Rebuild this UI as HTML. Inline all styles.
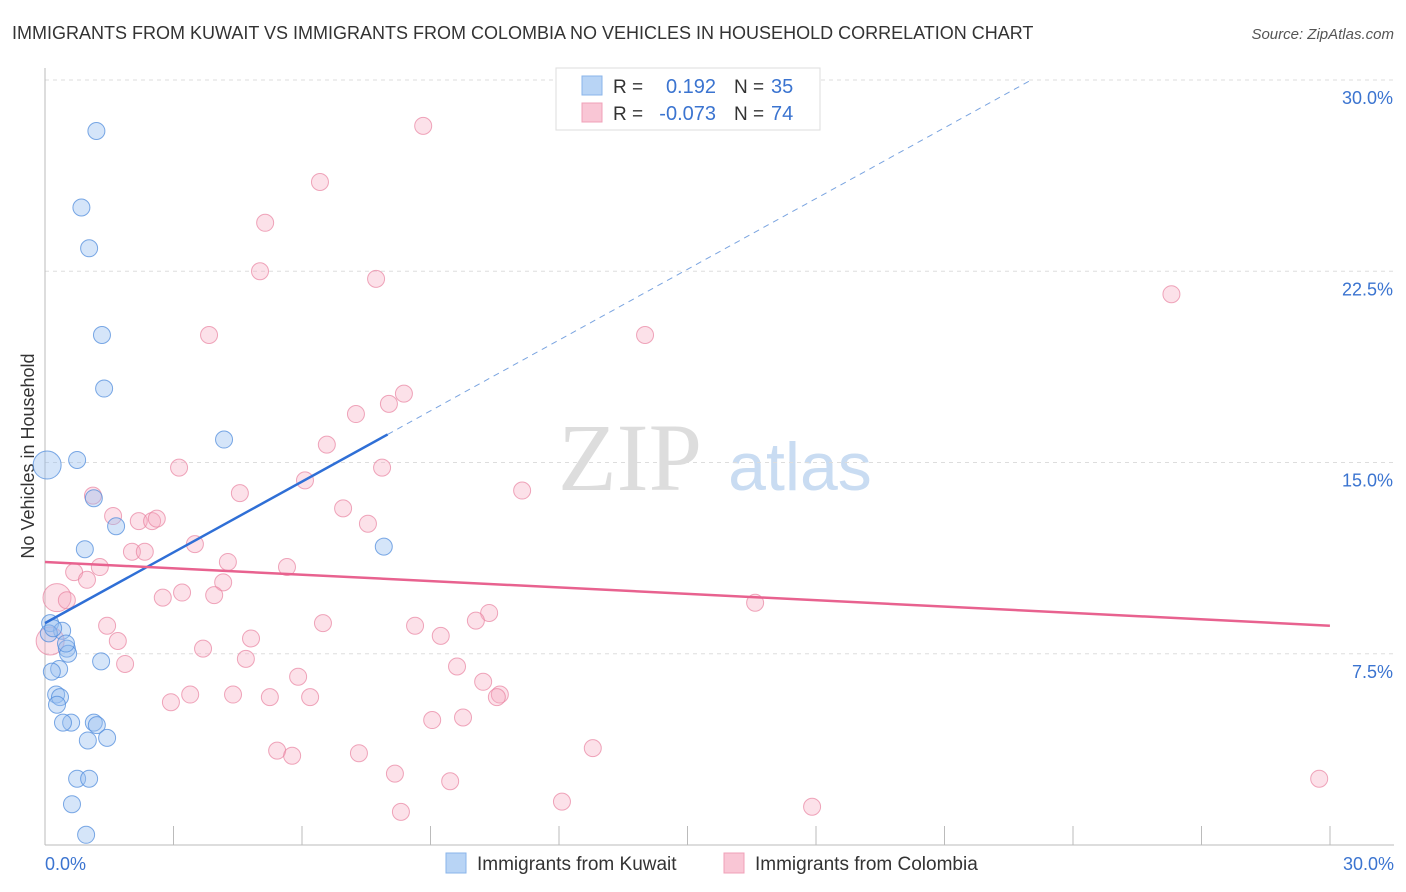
<!DOCTYPE html>
<html><head><meta charset="utf-8"><style>
body{margin:0;background:#fff;font-family:"Liberation Sans",sans-serif}
#wrap{position:relative;width:1406px;height:892px;overflow:hidden}
</style></head><body><div id="wrap">
<svg id="svg" width="1406" height="892" xmlns="http://www.w3.org/2000/svg">
<text x="12" y="39" font-size="18" fill="#333">IMMIGRANTS FROM KUWAIT VS IMMIGRANTS FROM COLOMBIA NO VEHICLES IN HOUSEHOLD CORRELATION CHART</text>
<text x="1394" y="39" font-size="15" fill="#555" font-style="italic" text-anchor="end">Source: ZipAtlas.com</text>
<text x="34" y="456" font-size="18" fill="#333" text-anchor="middle" transform="rotate(-90 34 456)">No Vehicles in Household</text>
<text x="630" y="490" font-size="96" fill="#ddd" font-family="Liberation Serif,serif" text-anchor="middle">ZIP</text>
<text x="800" y="490" font-size="68" fill="#c9dcf2" text-anchor="middle">atlas</text>
<g id="grid"></g><g id="pts"></g><g id="lines"></g>
<g>
<rect x="556" y="68" width="264" height="62" fill="#fff" stroke="#ddd"/>
<rect x="582" y="76" width="20" height="19" fill="#b8d4f5" stroke="#8ab4ea"/>
<rect x="582" y="103" width="20" height="19" fill="#f9c6d5" stroke="#f0a0b8"/>
<text x="613" y="93" font-size="19" fill="#333">R =</text><text x="716" y="93" font-size="20" fill="#3b74d0" text-anchor="end">0.192</text>
<text x="734" y="93" font-size="19" fill="#333">N =</text><text x="771" y="93" font-size="20" fill="#3b74d0">35</text>
<text x="613" y="120" font-size="19" fill="#333">R =</text><text x="716" y="120" font-size="20" fill="#3b74d0" text-anchor="end">-0.073</text>
<text x="734" y="120" font-size="19" fill="#333">N =</text><text x="771" y="120" font-size="20" fill="#3b74d0">74</text>
</g>
<g>
<rect x="446" y="853" width="20" height="20" fill="#b8d4f5" stroke="#8ab4ea"/>
<text x="477" y="870" font-size="19" fill="#333">Immigrants from Kuwait</text>
<rect x="724" y="853" width="20" height="20" fill="#f9c6d5" stroke="#f0a0b8"/>
<text x="755" y="870" font-size="19" fill="#333">Immigrants from Colombia</text>
</g>
</svg></div>
<script>
const yTicks=[7.5,15,22.5,30];
const yTickLabels=["7.5%","15.0%","22.5%","30.0%"];
const xTickLabels=["0.0%","30.0%"];
const kuwaitX=[1.2,0.85,1.03,1.33,1.38,4.18,0.05,0.75,1.14,1.66,0.93,7.91,0.12,0.4,0.09,0.51,0.54,1.31,0.33,0.16,0.26,0.35,0.28,0.61,0.42,1.14,1.21,1.0,1.45,0.75,1.03,0.63,0.96,0.19,0.49];
const kuwaitY=[28.0,25.0,23.4,20.0,17.9,15.9,14.9,15.1,13.6,12.5,11.6,11.7,8.7,8.4,8.3,7.7,7.5,7.2,6.9,6.8,5.9,5.8,5.5,4.8,4.8,4.8,4.7,4.1,4.2,2.6,2.6,1.6,0.4,8.5,7.9];
const colX=[8.83,6.42,5.14,5.02,7.73,26.3,14.01,3.83,8.38,8.03,7.26,6.58,3.13,7.87,6.07,11.14,4.55,1.12,1.59,6.96,2.19,2.5,2.61,7.54,3.5,2.03,2.33,4.27,5.65,1.28,0.68,0.98,4.16,3.2,2.75,3.95,0.28,0.51,10.37,10.06,16.58,1.45,6.49,8.64,1.7,9.24,4.81,3.69,4.69,1.87,9.62,5.91,10.23,10.62,3.39,10.55,2.94,4.39,5.25,6.19,9.04,9.76,5.42,12.79,7.33,5.77,8.17,9.46,12.07,8.31,17.91,29.75,0.12];
const colY=[28.2,26.0,24.4,22.5,22.2,21.6,20.0,20.0,17.7,17.3,16.9,15.7,14.8,14.8,14.3,13.9,13.8,13.7,12.9,13.2,12.7,12.7,12.8,12.6,11.8,11.5,11.5,11.1,10.9,10.9,10.7,10.4,10.3,9.9,9.7,9.8,9.7,9.6,9.1,8.8,9.5,8.6,8.7,8.6,8.0,8.2,8.1,7.7,7.3,7.1,7.0,6.6,6.4,5.9,5.9,5.8,5.6,5.9,5.8,5.8,4.9,5.0,3.7,3.8,3.6,3.5,2.8,2.5,1.7,1.3,1.5,2.6,8.0];
const kuwaitTrend=[0,8.7,8.0,16.1];
const colTrend=[0,11.1,30,8.6];
const NS="http://www.w3.org/2000/svg";
const X=v=>45+v*42.83, Y=v=>845-v*25.5;
function mk(t,a,p){const e=document.createElementNS(NS,t);for(const k in a)e.setAttribute(k,a[k]);p.appendChild(e);return e;}
const svg=document.getElementById('svg'),grid=document.getElementById('grid'),pts=document.getElementById('pts'),lines=document.getElementById('lines');
yTicks.forEach((t,i)=>{
 const g=mk('line',{x1:45,x2:1394,y1:Y(t),y2:Y(t),stroke:'#ddd','stroke-dasharray':'4,4'},grid);
 
 
 const l=mk('text',{x:1393,y:Y(t)+24,'font-size':18,fill:'#3b74d0','text-anchor':'end'},grid);l.textContent=yTickLabels[i];
 
 
});
const ax=mk('line',{x1:45,x2:45,y1:68,y2:845,stroke:'#bbb'},grid);


const bx=mk('line',{x1:45,x2:1394,y1:845,y2:845,stroke:'#bbb'},grid);


for(let i=1;i<=10;i++){const t=mk('line',{x1:45+i*128.5,x2:45+i*128.5,y1:826,y2:845,stroke:'#bbb'},grid);
 
 }
[[0,'start',45],[30,'end',1394]].forEach((d,i)=>{const l=mk('text',{x:d[2],y:870,'font-size':18,fill:'#3b74d0','text-anchor':d[1]},grid);l.textContent=xTickLabels[i];
 
 });
colX.forEach((x,i)=>{const big=(i===36||i===72);const c=mk('circle',{cx:X(x),cy:Y(colY[i]),r:big?14:8.5,fill:'rgba(246,168,192,0.35)',stroke:'rgba(232,130,160,0.7)','stroke-width':1},pts);
 
 });
kuwaitX.forEach((x,i)=>{const c=mk('circle',{cx:X(x),cy:Y(kuwaitY[i]),r:i===6?14:8.5,fill:'rgba(150,190,240,0.4)',stroke:'rgba(80,140,220,0.75)','stroke-width':1},pts);
 
 });
const kslope=(kuwaitTrend[3]-kuwaitTrend[1])/(kuwaitTrend[2]-kuwaitTrend[0]);
const k1=mk('line',{x1:X(0),y1:Y(kuwaitTrend[1]),x2:X(kuwaitTrend[2]),y2:Y(kuwaitTrend[3]),stroke:'#2f6fd6','stroke-width':2.5},lines);


const k2=mk('line',{x1:X(kuwaitTrend[2]),y1:Y(kuwaitTrend[3]),x2:X(23),y2:Y(kuwaitTrend[1]+kslope*23),stroke:'#7aa4e0','stroke-width':1,'stroke-dasharray':'6,5'},lines);


const c1=mk('line',{x1:X(colTrend[0]),y1:Y(colTrend[1]),x2:X(colTrend[2]),y2:Y(colTrend[3]),stroke:'#e8628f','stroke-width':2.5},lines);


</script></body></html>
